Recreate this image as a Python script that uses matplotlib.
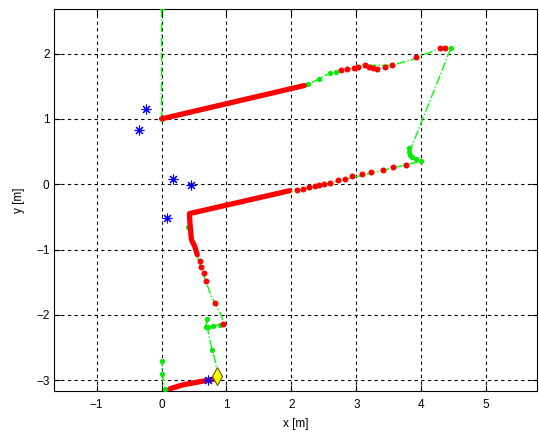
import matplotlib

matplotlib.use("Agg")
import matplotlib.pyplot as plt
import numpy as np

plt.rcParams["font.family"] = ["Liberation Sans", "DejaVu Sans"]

# robot path (green dash-dot), NaN = gap
path_x = [0.0, 0.0, 2.2, 2.26, 2.42, 2.6, 2.68, 3.14, 3.55, 3.87, 3.92, 4.12, 4.29, 4.37, 4.46,
          3.85, 3.81, 3.81, 3.85, 3.92, 4.0, 3.77, 2.18, 0.43, 0.41, 0.46, 0.68, 0.72, 0.77, 0.82,
          0.85, 0.92, 0.95, 0.79, 0.72, 0.68, 0.70, 0.72, 0.78, 0.83, 0.86, np.nan,
          0.82, 0.13, 0.05, 0.01, 0.01]
path_y = [2.69, 1.0, 1.51, 1.53, 1.61, 1.70, 1.72, 1.82, 1.82, 1.91, 1.95, 2.01, 2.09, 2.09, 2.09,
          0.57, 0.55, 0.45, 0.42, 0.38, 0.35, 0.30, -0.08, -0.45, -0.66, -0.85, -1.48, -1.59, -1.72, -1.82,
          -1.88, -2.0, -2.14, -2.17, -2.19, -2.18, -2.07, -2.28, -2.54, -2.71, -2.93, np.nan,
          -2.98, -3.13, -3.13, -2.9, -2.7]

# green markers on the path
green_x = [0.0, 0.0, 2.26, 2.42, 2.6, 2.68, 4.46, 3.81, 3.81, 3.82, 3.85, 3.92, 4.0, 0.41,
           0.70, 0.68, 0.72, 0.79, 0.90, 0.78, 0.05, 0.01, 0.01]
green_y = [2.69, 1.0, 1.53, 1.61, 1.70, 1.72, 2.09, 0.55, 0.50, 0.45, 0.42, 0.38, 0.35, -0.66,
           -2.07, -2.18, -2.19, -2.17, -2.15, -2.54, -3.13, -2.9, -2.7]

# dense red estimate segments
red_upper_x = [0.0, 2.2]
red_upper_y = [1.0, 1.51]
red_lower_x = [1.97, 0.43, 0.435, 0.46, 0.51, 0.55]
red_lower_y = [-0.10, -0.45, -0.57, -0.85, -0.95, -1.08]
red_bottom_x = [0.13, 0.33, 0.82]
red_bottom_y = [-3.13, -3.07, -2.98]

# sparse red estimates
red_x = [2.77, 2.86, 2.96, 3.02, 3.14, 3.19, 3.26, 3.32, 3.44, 3.55, 3.92, 4.29, 4.37,
         3.77, 3.56, 3.41, 3.23, 3.08, 2.94, 2.82, 2.71, 2.60, 2.5, 2.42, 2.36, 2.27, 2.18, 2.08,
         0.59, 0.61, 0.65, 0.68, 0.82, 0.95]
red_y = [1.74, 1.76, 1.78, 1.80, 1.82, 1.79, 1.78, 1.76, 1.80, 1.82, 1.95, 2.09, 2.09,
         0.30, 0.26, 0.21, 0.18, 0.15, 0.12, 0.08, 0.06, 0.02, 0.0, -0.01, -0.03, -0.05, -0.08, -0.09,
         -1.18, -1.26, -1.36, -1.48, -1.82, -2.14]

# landmarks
landmark_x = [-0.24, -0.345, 0.17, 0.46, 0.077, 0.72]
landmark_y = [1.15, 0.83, 0.076, -0.01, -0.51, -2.99]

start_x = [0.86]
start_y = [-2.93]

x_ticks = [-1, 0, 1, 2, 3, 4, 5]
y_ticks = [-3, -2, -1, 0, 1, 2]

fig = plt.figure(figsize=(5.39, 4.32), dpi=100)
ax = fig.add_axes([0.101, 0.0956, 0.895, 0.8834])

ax.plot(path_x, path_y, color="#00ff00", linestyle="-.", linewidth=1.0, zorder=2)
ax.plot(green_x, green_y, "o", color="#00ee00", markersize=3.8, markeredgewidth=0, zorder=3)
for sx, sy in [(red_upper_x, red_upper_y), (red_lower_x, red_lower_y), (red_bottom_x, red_bottom_y)]:
    ax.plot(sx, sy, color="red", linewidth=3.8, solid_capstyle="round", zorder=4)
ax.plot(red_x, red_y, "o", color="red", markersize=4.3, markeredgewidth=0, zorder=4)
ax.plot(landmark_x, landmark_y, linestyle="none", marker=(8, 2, 0), color="blue",
        markersize=7, markeredgewidth=0.8, zorder=5)
ax.plot(start_x, start_y, "d", color="yellow", markeredgecolor="#606000", markersize=9,
        markeredgewidth=0.8, zorder=6)

ax.set_xlim(-1.65, 5.78)
ax.set_ylim(-3.16, 2.68)
ax.set_xticks(x_ticks)
ax.set_yticks(y_ticks)
ax.grid(True, color="black", linestyle=(0, (3, 3)), linewidth=0.8)
ax.tick_params(direction="in", top=True, right=True, labelsize=8.5, length=4)
ax.tick_params(axis="x", pad=6)
ax.set_xlabel("x [m]", fontsize=8.5, labelpad=5)
ax.set_ylabel("y [m]", fontsize=8.5, labelpad=8)

fig.savefig("out.png", dpi=100)
